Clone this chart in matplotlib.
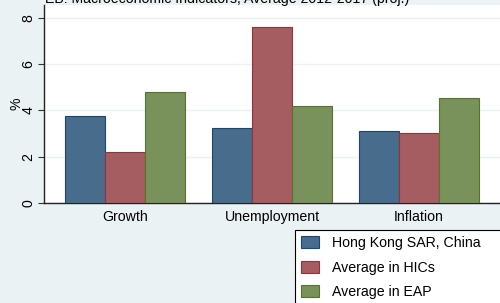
import matplotlib
matplotlib.use("Agg")
import matplotlib.pyplot as plt
import numpy as np
from matplotlib.patches import Rectangle

plt.rcParams['font.family'] = ['Liberation Sans', 'DejaVu Sans']

categories = ['Growth', 'Unemployment', 'Inflation']
series_names = ['Hong Kong SAR, China', 'Average in HICs', 'Average in EAP']
hong_kong = [3.76, 3.25, 3.13]
hics = [2.2, 7.6, 3.03]
eap = [4.82, 4.2, 4.53]
yticks = [0, 2, 4, 6, 8]

fills = ['#486c8c', '#a55d62', '#79915a']
edges = ['#1a476f', '#90353b', '#55752f']
bg = '#eaf2f3'

fig = plt.figure(figsize=(5, 3.03), dpi=100)
fig.patch.set_facecolor(bg)
ax = fig.add_axes([0.088, 0.33, 0.912, 0.6535])
ax.set_facecolor('white')

x = np.arange(len(categories))
w = 0.272
handles = []
for i, vals in enumerate([hong_kong, hics, eap]):
    b = ax.bar(x + (i - 1) * w, vals, width=w, color=fills[i],
               edgecolor=edges[i], linewidth=0.8, zorder=3, label=series_names[i])
    handles.append(b)

ax.set_xlim(-0.551, 2.551)
ax.set_ylim(0, 8.56)
ax.set_yticks(yticks)
ax.set_yticklabels([str(t) for t in yticks], rotation=90, va='center', fontsize=10.2)
ax.set_xticks(x)
ax.set_xticklabels(categories, fontsize=10.2)
ax.tick_params(axis='x', length=0, pad=5)
ax.tick_params(axis='y', length=4, width=0.8, color='#333333', pad=2)
ax.set_ylabel('%', fontsize=10.2, labelpad=-1)
ax.grid(axis='y', color=bg, linewidth=1.0, zorder=0)
for s in ['top', 'right']:
    ax.spines[s].set_visible(False)
for s in ['left', 'bottom']:
    ax.spines[s].set_color('#222222')
    ax.spines[s].set_linewidth(1.0)

# title is partly cut off at the top, as in the original
fig.text(0.09, 1 - 2.5 / 303, 'EB: Macroeconomic Indicators, Average 2012-2017 (proj.)',
         fontsize=10.2, va='baseline', ha='left')

fig.patches.append(Rectangle((295 / 500, -0.05), 0.5, 1 - 230 / 303 + 0.05,
                             transform=fig.transFigure, facecolor='white',
                             edgecolor='black', linewidth=0.8, zorder=1))
leg = fig.legend(handles=handles, loc='upper left',
                 bbox_to_anchor=(301 / 500, 1 - 236 / 303), frameon=False,
                 fontsize=10.2, handlelength=1.3, handleheight=0.95,
                 handletextpad=0.9, labelspacing=0.75, borderpad=0, borderaxespad=0)
leg.set_zorder(2)

fig.savefig('out.png', dpi=100, facecolor=bg)
